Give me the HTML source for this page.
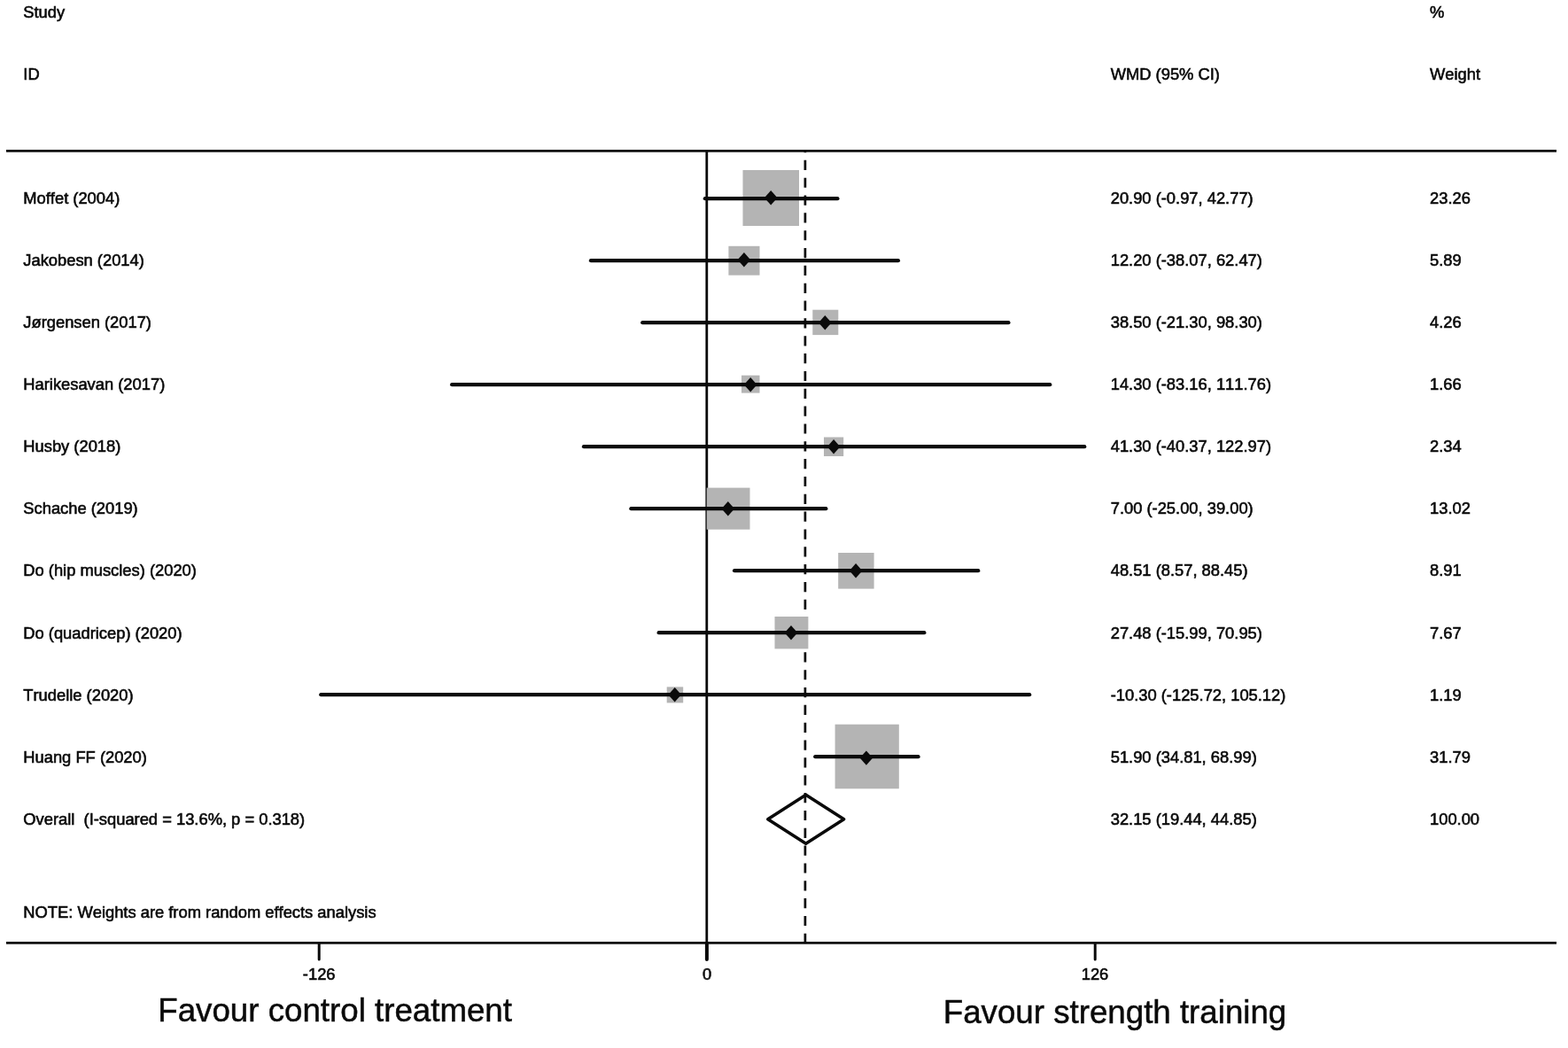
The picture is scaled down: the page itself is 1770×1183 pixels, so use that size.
<!DOCTYPE html>
<html lang="en">
<head>
<meta charset="utf-8">
<title>Forest plot</title>
<style>
html,body{margin:0;padding:0;background:#fff;}
body{width:1770px;height:1183px;overflow:hidden;}
svg{display:block;}
text{font-family:"Liberation Sans",Arial,Helvetica,sans-serif;fill:#0a0a0a;stroke:#0a0a0a;stroke-width:0.6px;font-kerning:none;}
.big{stroke-width:0.5px;}
.t{font-size:18.33px;}
.big{font-size:36.7px;}
</style>
</head>
<body>
<svg width="1770" height="1183" viewBox="0 0 1770 1183">
<rect x="0" y="0" width="1770" height="1183" fill="#ffffff"/>

<line x1="7" y1="170.4" x2="1757" y2="170.4" stroke="#0a0a0a" stroke-width="2.8"/>
<line x1="7" y1="1064.4" x2="1757" y2="1064.4" stroke="#0a0a0a" stroke-width="2.6"/>
<line x1="797.8" y1="170" x2="797.8" y2="1065" stroke="#0a0a0a" stroke-width="2.8"/>
<line x1="360.2" y1="1065.6" x2="360.2" y2="1083" stroke="#0a0a0a" stroke-width="3.0" stroke-linecap="round"/>
<line x1="797.9" y1="1065.6" x2="797.9" y2="1083" stroke="#0a0a0a" stroke-width="4.0" stroke-linecap="round"/>
<line x1="1236.2" y1="1065.6" x2="1236.2" y2="1083" stroke="#0a0a0a" stroke-width="3.0" stroke-linecap="round"/>
<line x1="908.9" y1="169.4" x2="908.9" y2="1064" stroke="#0a0a0a" stroke-width="2.7" stroke-dasharray="11.2 8.64" stroke-dashoffset="8.44"/>
<rect x="838.5" y="192.0" width="63.5" height="63.0" fill="#b4b4b4"/>
<rect x="822.4" y="277.8" width="35.1" height="32.9" fill="#b4b4b4"/>
<rect x="917.3" y="349.7" width="29.0" height="28.4" fill="#b4b4b4"/>
<rect x="837.0" y="423.7" width="20.5" height="19.9" fill="#b4b4b4"/>
<rect x="930.0" y="493.5" width="22.2" height="21.5" fill="#b4b4b4"/>
<rect x="797.7" y="550.6" width="48.8" height="47.1" fill="#b4b4b4"/>
<rect x="946.2" y="624.0" width="40.4" height="40.6" fill="#b4b4b4"/>
<rect x="874.5" y="696.0" width="37.9" height="36.4" fill="#b4b4b4"/>
<rect x="752.7" y="775.4" width="18.5" height="18.0" fill="#b4b4b4"/>
<rect x="942.6" y="817.7" width="72.2" height="72.6" fill="#b4b4b4"/>
<line x1="795.9" y1="224.2" x2="945.4" y2="224.2" stroke="#0a0a0a" stroke-width="4.3" stroke-linecap="round"/>
<polygon points="862.9,223.3 870.2,215.1 877.5,223.3 870.2,231.5" fill="#0a0a0a"/>
<text class="t" x="26.3" y="230.1">Moffet (2004)</text>
<text class="t" x="1253.7" y="230.1">20.90 (-0.97, 42.77)</text>
<text class="t" x="1614" y="230.1">23.26</text>
<line x1="667.0" y1="294.2" x2="1013.9" y2="294.2" stroke="#0a0a0a" stroke-width="4.3" stroke-linecap="round"/>
<polygon points="832.6,293.3 839.9,285.1 847.2,293.3 839.9,301.5" fill="#0a0a0a"/>
<text class="t" x="26.3" y="300.1">Jakobesn (2014)</text>
<text class="t" x="1253.7" y="300.1">12.20 (-38.07, 62.47)</text>
<text class="t" x="1614" y="300.1">5.89</text>
<line x1="725.3" y1="364.2" x2="1138.4" y2="364.2" stroke="#0a0a0a" stroke-width="4.3" stroke-linecap="round"/>
<polygon points="924.0,364.2 931.3,356.0 938.6,364.2 931.3,372.4" fill="#0a0a0a"/>
<text class="t" x="26.3" y="370.1">Jørgensen (2017)</text>
<text class="t" x="1253.7" y="370.1">38.50 (-21.30, 98.30)</text>
<text class="t" x="1614" y="370.1">4.26</text>
<line x1="510.2" y1="434.2" x2="1185.2" y2="434.2" stroke="#0a0a0a" stroke-width="4.3" stroke-linecap="round"/>
<polygon points="839.9,434.2 847.2,426.0 854.5,434.2 847.2,442.4" fill="#0a0a0a"/>
<text class="t" x="26.3" y="440.0">Harikesavan (2017)</text>
<text class="t" x="1253.7" y="440.0">14.30 (-83.16, 111.76)</text>
<text class="t" x="1614" y="440.0">1.66</text>
<line x1="659.0" y1="504.2" x2="1224.2" y2="504.2" stroke="#0a0a0a" stroke-width="4.3" stroke-linecap="round"/>
<polygon points="933.8,504.2 941.1,496.0 948.4,504.2 941.1,512.4" fill="#0a0a0a"/>
<text class="t" x="26.3" y="510.0">Husby (2018)</text>
<text class="t" x="1253.7" y="510.0">41.30 (-40.37, 122.97)</text>
<text class="t" x="1614" y="510.0">2.34</text>
<line x1="712.4" y1="574.2" x2="932.3" y2="574.2" stroke="#0a0a0a" stroke-width="4.3" stroke-linecap="round"/>
<polygon points="814.5,574.2 821.8,566.0 829.1,574.2 821.8,582.4" fill="#0a0a0a"/>
<text class="t" x="26.3" y="580.0">Schache (2019)</text>
<text class="t" x="1253.7" y="580.0">7.00 (-25.00, 39.00)</text>
<text class="t" x="1614" y="580.0">13.02</text>
<line x1="829.1" y1="644.2" x2="1104.2" y2="644.2" stroke="#0a0a0a" stroke-width="4.3" stroke-linecap="round"/>
<polygon points="958.8,644.2 966.1,636.0 973.4,644.2 966.1,652.4" fill="#0a0a0a"/>
<text class="t" x="26.3" y="650.0">Do (hip muscles) (2020)</text>
<text class="t" x="1253.7" y="650.0">48.51 (8.57, 88.45)</text>
<text class="t" x="1614" y="650.0">8.91</text>
<line x1="743.7" y1="714.2" x2="1043.3" y2="714.2" stroke="#0a0a0a" stroke-width="4.3" stroke-linecap="round"/>
<polygon points="885.7,714.2 893.0,706.0 900.3,714.2 893.0,722.4" fill="#0a0a0a"/>
<text class="t" x="26.3" y="720.9">Do (quadricep) (2020)</text>
<text class="t" x="1253.7" y="720.9">27.48 (-15.99, 70.95)</text>
<text class="t" x="1614" y="720.9">7.67</text>
<line x1="362.3" y1="784.2" x2="1162.1" y2="784.2" stroke="#0a0a0a" stroke-width="4.3" stroke-linecap="round"/>
<polygon points="754.4,784.2 761.7,776.0 769.0,784.2 761.7,792.4" fill="#0a0a0a"/>
<text class="t" x="26.3" y="791.0">Trudelle (2020)</text>
<text class="t" x="1253.7" y="791.0">-10.30 (-125.72, 105.12)</text>
<text class="t" x="1614" y="791.0">1.19</text>
<line x1="920.3" y1="854.2" x2="1036.5" y2="854.2" stroke="#0a0a0a" stroke-width="4.3" stroke-linecap="round"/>
<polygon points="970.6,855.6 977.9,847.4 985.2,855.6 977.9,863.8" fill="#0a0a0a"/>
<text class="t" x="26.3" y="860.7">Huang FF (2020)</text>
<text class="t" x="1253.7" y="860.7">51.90 (34.81, 68.99)</text>
<text class="t" x="1614" y="860.7">31.79</text>
<polygon points="866.8,924.75 909.7,897.30 952.6,924.75 909.7,952.20" fill="none" stroke="#0a0a0a" stroke-width="3.6" stroke-linejoin="round"/>
<text class="t" x="26.3" y="930.6" xml:space="preserve" style="white-space:pre">Overall  (I-squared = 13.6%, p = 0.318)</text>
<text class="t" x="1253.7" y="930.6">32.15 (19.44, 44.85)</text>
<text class="t" x="1614" y="930.6">100.00</text>
<text class="t" x="26.3" y="20.3">Study</text>
<text class="t" x="26.3" y="90.2">ID</text>
<text class="t" x="1253.7" y="90.2">WMD (95% CI)</text>
<text class="t" x="1614" y="20.3">%</text>
<text class="t" x="1614" y="90.2">Weight</text>
<text class="t" x="26.3" y="1036">NOTE: Weights are from random effects analysis</text>
<text class="t" x="360.2" y="1105.6" text-anchor="middle">-126</text>
<text class="t" x="798" y="1105.6" text-anchor="middle">0</text>
<text class="t" x="1236" y="1105.6" text-anchor="middle">126</text>
<text class="big" x="178.3" y="1153.2">Favour control treatment</text>
<text class="big" x="1064.8" y="1155.3">Favour strength training</text>
</svg>
</body>
</html>
